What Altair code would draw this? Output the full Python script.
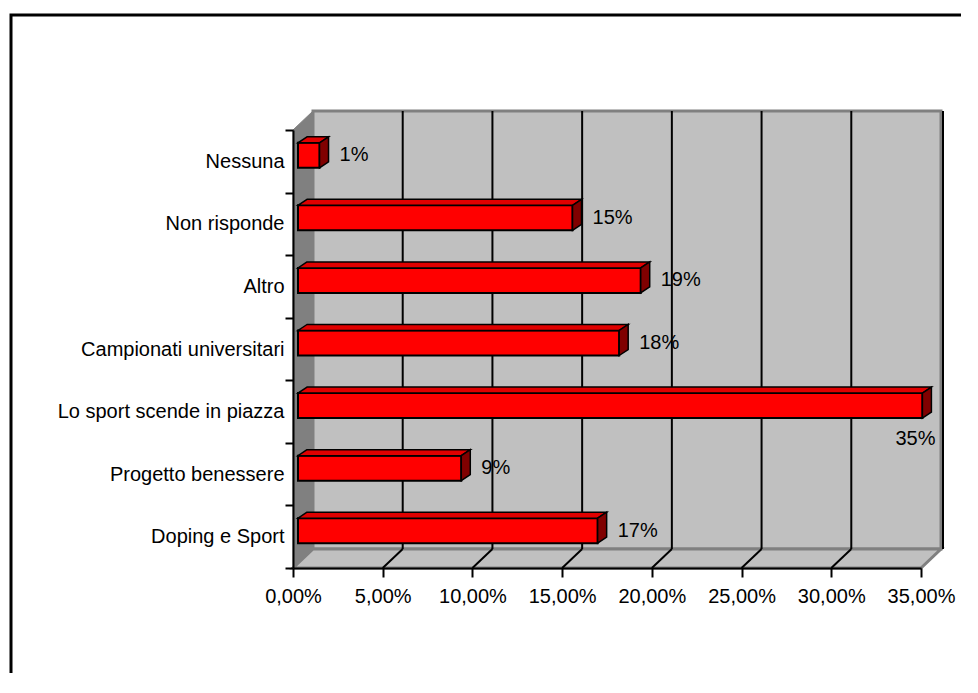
import json
import altair as alt
import pandas as pd

# ---- data (bottom to top) ----
categories = ["Doping e Sport", "Progetto benessere", "Lo sport scende in piazza",
              "Campionati universitari", "Altro", "Non risponde", "Nessuna"]
values = [16.7, 9.1, 34.8, 17.9, 19.1, 15.3, 1.2]
labels = ["17%", "9%", "35%", "18%", "19%", "15%", "1%"]
x_ticks = [0, 5, 10, 15, 20, 25, 30, 35]

# ---- geometry helpers ----
W, H = 628, 438
XMAX = x_ticks[-1]
N = len(categories)
PXX = W / XMAX
PXY = H / N
DX, DY = 20 / PXX, 19 / PXY          # depth of the 3D box
BOX, BOY = 5 / PXX, 6 / PXY          # bar front plane offset
BDX, BDY = 9 / PXX, 6 / PXY          # bar depth
HH = 12.5 / PXY                      # half bar height
FONT = "Liberation Sans"

bars = pd.DataFrame({"id": list(range(N)), "cat": categories, "v": values, "label": labels})
bars["x0"] = BOX
bars["x1"] = bars["v"] + BOX
bars["yc"] = bars["id"] + 0.5 + BOY
bars["y0"] = bars["yc"] - HH
bars["y1"] = bars["yc"] + HH
bars["xl"] = bars["x1"] + BDX

tops = pd.concat([
    pd.DataFrame({"id": bars["id"], "y": bars["y1"], "xa": bars["x0"], "xb": bars["x1"]}),
    pd.DataFrame({"id": bars["id"], "y": bars["y1"] + BDY, "xa": bars["x0"] + BDX, "xb": bars["x1"] + BDX}),
])
sides = pd.concat([
    pd.DataFrame({"id": bars["id"], "x": bars["x1"], "ya": bars["y0"], "yb": bars["y1"]}),
    pd.DataFrame({"id": bars["id"], "x": bars["x1"] + BDX, "ya": bars["y0"] + BDY, "yb": bars["y1"] + BDY}),
])
leftwall = pd.DataFrame({"x": [0, DX], "ya": [0, DY], "yb": [N, N + DY]})
floor = pd.DataFrame({"y": [0, DY], "xa": [0, DX], "xb": [XMAX, XMAX + DX]})
backwall = pd.DataFrame({"xa": [DX], "xb": [XMAX + DX], "ya": [DY], "yb": [N + DY]})
grid = pd.DataFrame({"x": [t + DX for t in x_ticks[1:-1]], "ya": DY, "yb": N + DY})
diag = pd.DataFrame({"xa": x_ticks[1:-1], "xb": [t + DX for t in x_ticks[1:-1]], "ya": 0.0, "yb": DY})
redge = pd.DataFrame({"x": [XMAX + DX], "ya": [DY], "yb": [N + DY]})

xs = alt.Scale(domain=[0, XMAX], nice=False, zero=False)
ys = alt.Scale(domain=[0, N], nice=False, zero=False)

x_axis = alt.Axis(values=x_ticks, title=None, grid=False,
                  labelExpr="replace(format(datum.value, '.2f'), '.', ',') + '%'",
                  labelFont=FONT, labelFontSize=20, labelColor="black", labelPadding=9,
                  labelFlush=False, labelOverlap=False,
                  tickSize=9, tickWidth=2, tickColor="black",
                  domainColor="black", domainWidth=2, zindex=1)
y_axis = alt.Axis(values=list(range(N + 1)), title=None, grid=False,
                  labelExpr=json.dumps(categories) + "[datum.value] || ''",
                  labelOffset=-PXY / 2, labelBaseline="middle", labelLimit=0,
                  labelFont=FONT, labelFontSize=20, labelColor="black", labelPadding=1,
                  labelFlush=False, labelOverlap=False, labelBound=False,
                  tickSize=8, tickWidth=2, tickColor="black",
                  domainColor="black", domainWidth=2, zindex=1)


def X(f):
    return alt.X(field=f, type="quantitative", scale=xs, axis=x_axis, stack=False)


def Y(f):
    return alt.Y(field=f, type="quantitative", scale=ys, axis=y_axis, stack=False)


border = alt.Chart(pd.DataFrame({"a": [0]})).mark_rect(
    fill="white", stroke="black", strokeWidth=3
).encode(x=alt.value(-282), x2=alt.value(800), y=alt.value(-115), y2=alt.value(700))

back = alt.Chart(backwall).mark_rect(fill="#c0c0c0", stroke="#808080", strokeWidth=3).encode(
    x=X("xa"), x2="xb", y=Y("ya"), y2="yb")

lw = alt.Chart(leftwall).mark_area(orient="vertical", fill="#808080", stroke="#808080",
                                   strokeWidth=1).encode(x=X("x"), y=Y("ya"), y2="yb")

fl = alt.Chart(floor).mark_area(orient="horizontal", fill="#c0c0c0", stroke="#808080",
                                strokeWidth=3).encode(y=Y("y"), x=X("xa"), x2="xb")

gl = alt.Chart(grid).mark_rule(color="black", strokeWidth=2).encode(
    x=X("x"), y=Y("ya"), y2="yb")

dg = alt.Chart(diag).mark_rule(color="black", strokeWidth=2).encode(
    x=X("xa"), x2="xb", y=Y("ya"), y2="yb")

re = alt.Chart(redge).mark_rule(color="black", strokeWidth=2, xOffset=2).encode(
    x=X("x"), y=Y("ya"), y2="yb")

front = alt.Chart(bars).mark_rect(fill="#ff0000", stroke="black", strokeWidth=2).encode(
    x=X("x0"), x2="x1", y=Y("y0"), y2="y1")

top = alt.Chart(tops).mark_area(orient="horizontal", fill="#e00000", stroke="black",
                                strokeWidth=1.5).encode(
    y=Y("y"), x=X("xa"), x2="xb", detail="id:N")

side = alt.Chart(sides).mark_area(orient="vertical", fill="#800000", stroke="black",
                                  strokeWidth=1.5).encode(
    x=X("x"), y=Y("ya"), y2="yb", detail="id:N")

lab_small = alt.Chart(bars).transform_filter("datum.v < 30").mark_text(
    font=FONT, fontSize=20, color="black", align="left", baseline="middle", dx=11
).encode(x=X("xl"), y=Y("yc"), text="label:N")

lab_big = alt.Chart(bars).transform_filter("datum.v >= 30").mark_text(
    font=FONT, fontSize=20, color="black", align="right", baseline="middle", dx=4, dy=33
).encode(x=X("xl"), y=Y("yc"), text="label:N")

chart = alt.layer(
    border, back, lw, fl, gl, dg, re, front, top, side, lab_small, lab_big
).properties(
    width=W, height=H,
    autosize=alt.AutoSizeParams(type="none"),
    padding={"left": 285, "top": 122, "right": 40, "bottom": 105},
    background="white",
).configure_view(stroke=None)

chart.save("out.html", embed_options={"renderer": "svg", "actions": False})
